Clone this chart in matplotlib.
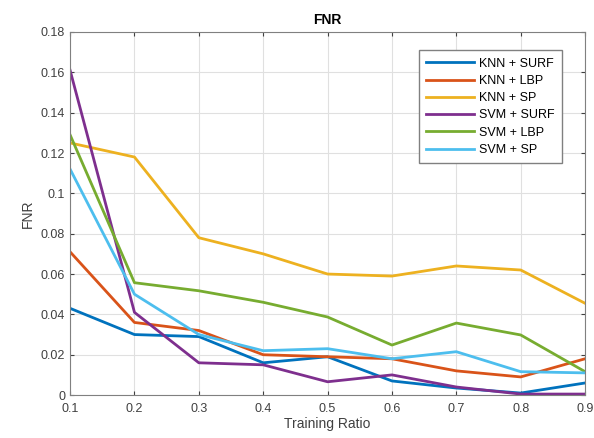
import matplotlib
matplotlib.use('Agg')
import matplotlib.pyplot as plt
from matplotlib.ticker import FuncFormatter

matplotlib.rcParams['font.family'] = ['Liberation Sans', 'DejaVu Sans']

ratios = [0.1, 0.2, 0.3, 0.4, 0.5, 0.6, 0.7, 0.8, 0.9]

knn_surf = [0.043, 0.030, 0.029, 0.016, 0.019, 0.007, 0.0035, 0.001, 0.006]
knn_lbp = [0.071, 0.036, 0.032, 0.020, 0.019, 0.018, 0.012, 0.009, 0.018]
knn_sp = [0.125, 0.118, 0.078, 0.070, 0.060, 0.059, 0.064, 0.062, 0.0455]
svm_surf = [0.161, 0.041, 0.016, 0.015, 0.0066, 0.010, 0.004, 0.0005, 0.0005]
svm_lbp = [0.129, 0.0557, 0.0517, 0.046, 0.0387, 0.0248, 0.0357, 0.0298, 0.0116]
svm_sp = [0.112, 0.050, 0.030, 0.022, 0.023, 0.018, 0.0215, 0.0116, 0.011]

series = [
    ('KNN + SURF', knn_surf, '#0072BD'),
    ('KNN + LBP', knn_lbp, '#D95319'),
    ('KNN + SP', knn_sp, '#EDB120'),
    ('SVM + SURF', svm_surf, '#7E2F8E'),
    ('SVM + LBP', svm_lbp, '#77AC30'),
    ('SVM + SP', svm_sp, '#4DBEEE'),
]

fig = plt.figure(figsize=(5.94, 4.38), dpi=100)
fig.patch.set_facecolor('white')
ax = fig.add_axes([0.118, 0.098, 0.867, 0.829])

for label, vals, color in series:
    ax.plot(ratios, vals, color=color, linewidth=2, label=label)

ax.set_xlim(0.1, 0.9)
ax.set_ylim(0, 0.18)
ax.set_xticks(ratios)
ax.set_yticks([i * 0.02 for i in range(10)])
fmt = FuncFormatter(lambda v, p: '%g' % round(v, 2))
ax.xaxis.set_major_formatter(fmt)
ax.yaxis.set_major_formatter(fmt)

ax.grid(True, color='#e0e0e0', linewidth=0.8)
ax.set_axisbelow(True)
ax.tick_params(direction='in', top=True, right=True, labelsize=9,
               colors='#404040', length=3)
ax.tick_params(axis='x', pad=6)
for sp in ax.spines.values():
    sp.set_color('#808080')

ax.set_title('FNR', fontsize=10, fontweight='bold', pad=6)
ax.set_xlabel('Training Ratio', fontsize=10, color='#404040', labelpad=1)
ax.set_ylabel('FNR', fontsize=10, color='#404040', labelpad=4)

ax.legend(loc='upper right', bbox_to_anchor=(0.967, 0.967), fontsize=9,
          handlelength=3.8, frameon=True, fancybox=False,
          edgecolor='#808080', framealpha=1, labelspacing=0.42,
          borderpad=0.6, handletextpad=0.4)

plt.savefig('out.png', dpi=100, facecolor='white')
